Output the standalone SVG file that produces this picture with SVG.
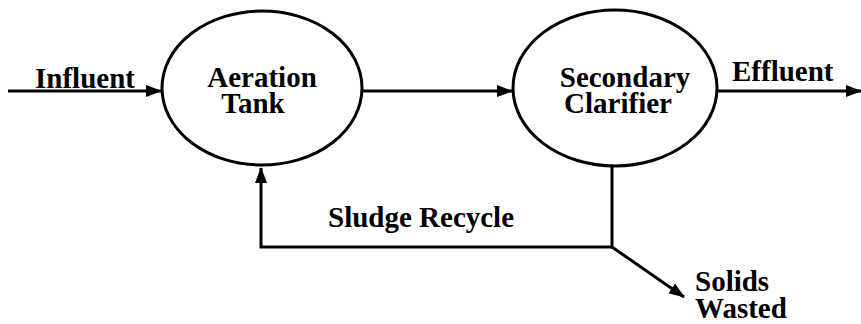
<svg xmlns="http://www.w3.org/2000/svg" width="861" height="324" viewBox="0 0 861 324">
<defs>
<style>
text{font-family:'Liberation Serif','DejaVu Serif',serif;font-weight:700;font-size:29px;fill:#000}
.c{text-anchor:middle}
</style>
<marker id="ah" markerWidth="16" markerHeight="12" refX="15" refY="6" orient="auto" markerUnits="userSpaceOnUse">
<path d="M0,0 L16,6 L0,12 Z" fill="#000"/>
</marker>
</defs>
<rect width="861" height="324" fill="#fff"/>
<g id="connectors" fill="none" stroke="#000" stroke-width="3">
<line x1="8" y1="91" x2="161" y2="91" marker-end="url(#ah)"/>
<line x1="363" y1="91" x2="512" y2="91" marker-end="url(#ah)"/>
<line x1="717" y1="91" x2="861" y2="91" marker-end="url(#ah)"/>
<polyline points="612,166 612,247 261,247 261,168" marker-end="url(#ah)"/>
<line x1="612" y1="247" x2="684" y2="297" marker-end="url(#ah)"/>
</g>
<g id="labels">
<text x="35" y="88">Influent</text>
<text x="732" y="81">Effluent</text>
<text x="328" y="227">Sludge Recycle</text>
<text x="695" y="291">Solids</text>
<text x="695" y="318">Wasted</text>
</g>
<g id="aeration-tank">
<ellipse cx="262" cy="88" rx="100" ry="77" fill="#fff" stroke="#000" stroke-width="3"/>
<text class="c" x="262" y="87">Aeration</text>
<text class="c" x="253" y="113">Tank</text>
</g>
<g id="secondary-clarifier">
<ellipse cx="615" cy="88" rx="102" ry="78" fill="#fff" stroke="#000" stroke-width="3"/>
<text class="c" x="625" y="87">Secondary</text>
<text class="c" x="618" y="113">Clarifier</text>
</g>
</svg>
